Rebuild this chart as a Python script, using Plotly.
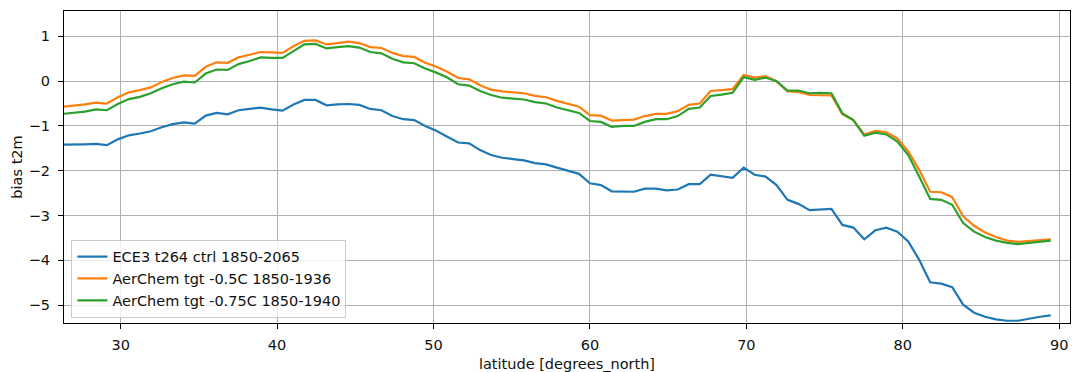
import plotly.graph_objects as go

# Latitude grid (degrees north)
lat = [
    26.32, 27.02, 27.72, 28.42, 29.12, 29.82, 30.53, 31.23, 31.93, 32.63,
    33.33, 34.04, 34.74, 35.44, 36.14, 36.84, 37.54, 38.25, 38.95, 39.65,
    40.35, 41.05, 41.75, 42.46, 43.16, 43.86, 44.56, 45.26, 45.96, 46.67,
    47.37, 48.07, 48.77, 49.47, 50.18, 50.88, 51.58, 52.28, 52.98, 53.68,
    54.39, 55.09, 55.79, 56.49, 57.19, 57.89, 58.60, 59.30, 60.00, 60.70,
    61.40, 62.11, 62.81, 63.51, 64.21, 64.91, 65.61, 66.32, 67.02, 67.72,
    68.42, 69.12, 69.83, 70.53, 71.23, 71.93, 72.63, 73.33, 74.04, 74.74,
    75.44, 76.14, 76.84, 77.54, 78.25, 78.95, 79.65, 80.35, 81.05, 81.75,
    82.46, 83.16, 83.86, 84.56, 85.26, 85.96, 86.67, 87.37, 88.07, 88.77,
    89.46,
]

# Zonal-mean t2m bias, control run
bias_ctrl = [
    -1.42, -1.42, -1.41, -1.40, -1.43, -1.30, -1.21, -1.17, -1.12, -1.03,
    -0.96, -0.92, -0.95, -0.77, -0.71, -0.74, -0.65, -0.62, -0.59, -0.63,
    -0.66, -0.52, -0.42, -0.42, -0.54, -0.52, -0.51, -0.53, -0.62, -0.65,
    -0.78, -0.85, -0.87, -1.00, -1.11, -1.24, -1.37, -1.39, -1.54, -1.65,
    -1.71, -1.74, -1.77, -1.83, -1.86, -1.93, -2.00, -2.07, -2.28, -2.32,
    -2.46, -2.46, -2.47, -2.40, -2.40, -2.44, -2.42, -2.30, -2.30, -2.09,
    -2.12, -2.16, -1.93, -2.09, -2.13, -2.32, -2.65, -2.74, -2.88, -2.86,
    -2.85, -3.21, -3.27, -3.53, -3.33, -3.27, -3.36, -3.58, -3.99, -4.49,
    -4.52, -4.60, -4.99, -5.17, -5.26, -5.32, -5.35, -5.35, -5.30, -5.26,
    -5.23,
]

# AerChem target -0.5C
bias_05 = [
    -0.57, -0.55, -0.52, -0.48, -0.50, -0.36, -0.25, -0.20, -0.14, -0.02,
    0.07, 0.13, 0.12, 0.32, 0.42, 0.41, 0.53, 0.59, 0.65, 0.64,
    0.63, 0.78, 0.90, 0.91, 0.82, 0.85, 0.88, 0.85, 0.76, 0.74,
    0.63, 0.56, 0.54, 0.41, 0.32, 0.21, 0.07, 0.04, -0.09, -0.19,
    -0.23, -0.25, -0.27, -0.33, -0.36, -0.44, -0.50, -0.57, -0.76, -0.77,
    -0.88, -0.87, -0.86, -0.78, -0.73, -0.73, -0.67, -0.53, -0.50, -0.22,
    -0.20, -0.18, 0.14, 0.08, 0.11, 0.00, -0.23, -0.24, -0.31, -0.32,
    -0.32, -0.74, -0.87, -1.19, -1.11, -1.14, -1.28, -1.57, -1.98, -2.47,
    -2.48, -2.59, -3.02, -3.23, -3.38, -3.48, -3.56, -3.59, -3.57, -3.56,
    -3.53,
]

# AerChem target -0.75C
bias_075 = [
    -0.73, -0.71, -0.68, -0.63, -0.65, -0.51, -0.40, -0.35, -0.27, -0.16,
    -0.07, -0.01, -0.03, 0.17, 0.26, 0.25, 0.38, 0.45, 0.53, 0.52,
    0.52, 0.67, 0.82, 0.83, 0.73, 0.76, 0.78, 0.75, 0.65, 0.62,
    0.50, 0.42, 0.40, 0.28, 0.19, 0.08, -0.07, -0.10, -0.22, -0.31,
    -0.37, -0.39, -0.41, -0.47, -0.50, -0.59, -0.65, -0.71, -0.89, -0.91,
    -1.02, -1.00, -1.00, -0.91, -0.85, -0.85, -0.78, -0.62, -0.59, -0.33,
    -0.30, -0.26, 0.09, 0.03, 0.08, 0.00, -0.21, -0.21, -0.27, -0.26,
    -0.27, -0.72, -0.87, -1.22, -1.15, -1.19, -1.35, -1.65, -2.13, -2.63,
    -2.65, -2.76, -3.17, -3.36, -3.48, -3.56, -3.61, -3.64, -3.61, -3.59,
    -3.56,
]

series_names = [
    "ECE3 t264 ctrl 1850-2065",
    "AerChem tgt -0.5C 1850-1936",
    "AerChem tgt -0.75C 1850-1940",
]
series_colors = ["#1f77b4", "#ff7f0e", "#2ca02c"]

x_ticks = [30, 40, 50, 60, 70, 80, 90]
y_ticks = [-5, -4, -3, -2, -1, 0, 1]

FONT = "DejaVu Sans, Liberation Sans, sans-serif"
FS = 14.5
TXT = "#111111"

fig = go.Figure()
for name, color, vals in zip(series_names, series_colors, [bias_ctrl, bias_05, bias_075]):
    fig.add_trace(go.Scatter(
        x=lat, y=vals, mode="lines", name=name,
        line=dict(color=color, width=2.2),
    ))

axis_common = dict(
    showline=True, linecolor="black", linewidth=1, mirror=True,
    ticks="outside", ticklen=5, tickwidth=1, tickcolor="black",
    showgrid=True, gridcolor="#b0b0b0", gridwidth=1.1,
    zeroline=False,
    tickfont=dict(family=FONT, size=FS, color=TXT),
)

fig.update_layout(
    width=1072, height=372,
    margin=dict(l=64, r=2, t=11, b=49),
    paper_bgcolor="white", plot_bgcolor="white",
    font=dict(family=FONT, size=FS, color=TXT),
    xaxis=dict(
        range=[26.38, 90.69], tickvals=x_ticks,
        title=dict(text="latitude [degrees_north]", standoff=7,
                   font=dict(family=FONT, size=FS, color=TXT)),
        ticklabelstandoff=4,
        **axis_common,
    ),
    yaxis=dict(
        range=[-5.40, 1.566], tickvals=y_ticks,
        title=dict(text="bias t2m", standoff=2,
                   font=dict(family=FONT, size=FS, color=TXT)),
        ticklabelstandoff=5,
        **axis_common,
    ),
    legend=dict(
        x=0.0074, y=0.017, xanchor="left", yanchor="bottom",
        bgcolor="rgba(255,255,255,0.8)", bordercolor="#cccccc", borderwidth=1,
        font=dict(family=FONT, size=FS, color=TXT),
    ),
    showlegend=True,
)

fig.write_html("out.html")
